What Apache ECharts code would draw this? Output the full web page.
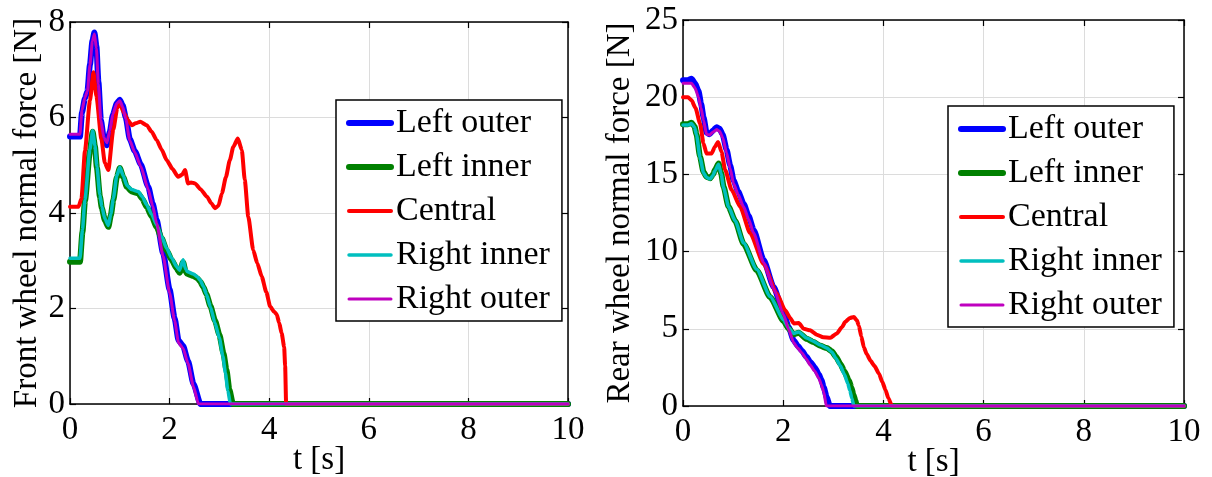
<!DOCTYPE html>
<html>
<head>
<meta charset="utf-8">
<script src="https://cdn.jsdelivr.net/npm/echarts@6/dist/echarts.min.js"></script>
<style>
  html, body { margin: 0; padding: 0; background: #fff; }
  #chart { width: 1212px; height: 477px; }
</style>
</head>
<body>
<div id="chart"></div>
<script>
// Series names (legend order)
const seriesNames = ['Left outer', 'Left inner', 'Central', 'Right inner', 'Right outer'];

// Axis tick values
const timeTicks = [0, 2, 4, 6, 8, 10];
const frontForceTicks = [0, 2, 4, 6, 8];
const rearForceTicks = [0, 5, 10, 15, 20, 25];

// Front wheel normal force [N] vs time [s], pairs [t, F]
const frontLeftOuter = [[0,5.6],[0.2,5.6],[0.24,6.1],[0.3,6.4],[0.35,6.55],[0.4,7.1],[0.45,7.6],[0.49,7.78],[0.53,7.5],[0.57,6.75],[0.62,5.95],[0.68,5.55],[0.74,5.42],[0.8,5.7],[0.86,6.05],[0.94,6.3],[1.0,6.37],[1.06,6.25],[1.12,6.0],[1.2,5.55],[1.3,5.3],[1.42,5.02],[1.57,4.55],[1.66,4.2],[1.74,3.85],[1.87,3.16],[2.0,2.4],[2.1,1.8],[2.18,1.33],[2.27,1.22],[2.37,0.9],[2.48,0.42],[2.62,0],[2.7,0],[10,0]];
const frontLeftInner = [[0,2.98],[0.2,2.98],[0.25,3.6],[0.3,4.25],[0.4,5.3],[0.455,5.7],[0.5,5.4],[0.54,4.95],[0.6,4.35],[0.64,4.1],[0.7,3.85],[0.77,3.71],[0.82,3.95],[0.87,4.27],[0.94,4.75],[1.0,4.94],[1.07,4.75],[1.14,4.55],[1.24,4.45],[1.37,4.41],[1.45,4.3],[1.54,4.13],[1.64,3.93],[1.74,3.71],[1.84,3.47],[1.94,3.22],[2.04,3.02],[2.14,2.84],[2.2,2.75],[2.27,2.97],[2.32,2.78],[2.36,2.72],[2.48,2.68],[2.56,2.63],[2.61,2.57],[2.68,2.45],[2.74,2.3],[2.82,2.05],[2.91,1.75],[3.0,1.45],[3.08,1.07],[3.14,0.72],[3.2,0.3],[3.27,0],[3.35,0],[10,0]];
const frontCentral = [[0,4.13],[0.17,4.13],[0.23,4.3],[0.3,5.3],[0.4,6.35],[0.47,6.95],[0.53,6.45],[0.63,5.55],[0.7,5.05],[0.77,4.9],[0.87,5.75],[0.95,6.2],[1.0,6.3],[1.08,6.1],[1.16,5.95],[1.24,5.84],[1.32,5.88],[1.41,5.91],[1.54,5.84],[1.64,5.7],[1.74,5.53],[1.84,5.33],[1.94,5.11],[2.06,4.92],[2.17,4.76],[2.25,4.8],[2.31,4.9],[2.37,4.62],[2.43,4.64],[2.51,4.62],[2.62,4.5],[2.75,4.34],[2.84,4.2],[2.91,4.1],[2.98,4.15],[3.05,4.41],[3.13,4.75],[3.21,5.11],[3.28,5.39],[3.37,5.56],[3.45,5.32],[3.51,4.69],[3.58,3.92],[3.68,3.22],[3.76,2.95],[3.85,2.67],[3.94,2.35],[4.02,2.04],[4.1,1.93],[4.15,1.88],[4.2,1.7],[4.25,1.48],[4.3,1.2],[4.32,0.8],[4.34,0],[4.42,0],[10,0]];
const frontRightInner = [[0,3.05],[0.2,3.05],[0.25,3.65],[0.3,4.28],[0.4,5.33],[0.455,5.72],[0.5,5.42],[0.54,4.98],[0.6,4.38],[0.64,4.13],[0.7,3.88],[0.77,3.74],[0.82,3.98],[0.87,4.3],[0.94,4.78],[1.0,4.96],[1.07,4.78],[1.14,4.58],[1.24,4.49],[1.37,4.45],[1.45,4.34],[1.54,4.17],[1.64,3.97],[1.74,3.75],[1.84,3.51],[1.94,3.26],[2.04,3.06],[2.14,2.88],[2.2,2.8],[2.27,3.02],[2.32,2.83],[2.36,2.77],[2.48,2.72],[2.56,2.66],[2.61,2.6],[2.68,2.46],[2.74,2.3],[2.82,2.03],[2.91,1.7],[3.0,1.38],[3.07,1.0],[3.12,0.65],[3.17,0.28],[3.22,0],[3.3,0],[10,0]];
const frontRightOuter = [[0,5.65],[0.2,5.65],[0.24,6.15],[0.3,6.42],[0.35,6.55],[0.4,7.1],[0.45,7.6],[0.49,7.75],[0.53,7.45],[0.57,6.7],[0.62,5.95],[0.68,5.58],[0.74,5.47],[0.8,5.73],[0.86,6.07],[0.94,6.3],[1.0,6.35],[1.06,6.22],[1.12,5.97],[1.2,5.52],[1.3,5.27],[1.42,4.98],[1.57,4.5],[1.66,4.15],[1.74,3.78],[1.87,3.1],[2.0,2.33],[2.1,1.75],[2.18,1.28],[2.27,1.17],[2.37,0.85],[2.48,0.36],[2.58,0],[2.66,0],[10,0]];

// Rear wheel normal force [N] vs time [s], pairs [t, F]
const rearLeftOuter = [[0,21.1],[0.1,21.1],[0.17,21.2],[0.24,20.9],[0.31,20.4],[0.36,19.6],[0.41,18.7],[0.47,17.7],[0.53,17.6],[0.6,17.85],[0.67,18.05],[0.73,17.95],[0.79,17.6],[0.87,16.6],[0.94,15.6],[1.01,14.6],[1.1,13.9],[1.21,13.1],[1.31,12.3],[1.41,11.4],[1.61,9.45],[1.81,7.7],[2.01,6.0],[2.11,5.1],[2.21,4.25],[2.29,3.9],[2.37,3.6],[2.46,3.2],[2.54,2.85],[2.63,2.5],[2.71,2.05],[2.76,1.7],[2.81,1.2],[2.87,0.55],[2.93,0],[3.0,0],[10,0]];
const rearLeftInner = [[0,18.25],[0.1,18.25],[0.17,18.35],[0.23,18.1],[0.27,17.6],[0.34,16.15],[0.41,15.15],[0.47,14.85],[0.54,14.75],[0.6,15.0],[0.64,15.3],[0.71,15.7],[0.76,15.1],[0.81,14.2],[0.91,12.9],[1.04,12.0],[1.21,10.5],[1.47,8.8],[1.74,7.05],[2.01,5.5],[2.11,5.0],[2.21,4.65],[2.31,4.75],[2.47,4.35],[2.6,4.15],[2.74,3.9],[2.87,3.75],[2.97,3.55],[3.05,3.2],[3.14,2.74],[3.22,2.25],[3.31,1.66],[3.36,1.2],[3.4,0.75],[3.44,0.35],[3.47,0],[3.55,0],[10,0]];
const rearCentral = [[0,20.0],[0.1,20.0],[0.17,19.8],[0.25,19.3],[0.34,18.3],[0.41,17.0],[0.47,16.35],[0.57,16.35],[0.64,16.8],[0.7,17.1],[0.77,16.45],[0.84,15.3],[0.97,14.0],[1.14,12.9],[1.34,11.2],[1.61,9.2],[1.87,7.3],[2.04,6.2],[2.14,5.7],[2.21,5.35],[2.31,5.37],[2.41,5.0],[2.54,4.9],[2.67,4.62],[2.8,4.45],[2.94,4.42],[3.07,4.7],[3.17,5.1],[3.24,5.45],[3.33,5.7],[3.41,5.76],[3.47,5.55],[3.51,5.2],[3.56,4.5],[3.61,3.8],[3.67,3.35],[3.74,2.95],[3.82,2.6],[3.91,2.1],[3.98,1.55],[4.04,1.05],[4.1,0.5],[4.17,0],[4.25,0],[10,0]];
const rearRightInner = [[0,18.2],[0.1,18.2],[0.17,18.3],[0.23,18.05],[0.27,17.55],[0.34,16.1],[0.41,15.1],[0.47,14.8],[0.54,14.7],[0.6,14.95],[0.64,15.25],[0.71,15.65],[0.76,15.05],[0.81,14.15],[0.91,12.9],[1.04,12.0],[1.21,10.55],[1.47,8.85],[1.74,7.1],[2.01,5.55],[2.11,5.05],[2.21,4.7],[2.31,4.8],[2.47,4.4],[2.6,4.2],[2.74,3.95],[2.87,3.75],[2.97,3.5],[3.05,3.1],[3.14,2.6],[3.22,2.05],[3.29,1.45],[3.33,1.0],[3.37,0.5],[3.41,0],[3.5,0],[10,0]];
const rearRightOuter = [[0,20.9],[0.1,20.9],[0.17,20.9],[0.24,20.6],[0.31,20.0],[0.36,19.3],[0.41,18.5],[0.47,17.6],[0.53,17.55],[0.6,17.75],[0.67,17.9],[0.73,17.8],[0.79,17.4],[0.87,16.4],[0.94,15.4],[1.01,14.4],[1.1,13.7],[1.21,12.9],[1.31,12.1],[1.41,11.2],[1.61,9.3],[1.81,7.6],[2.01,5.9],[2.11,4.95],[2.21,4.1],[2.29,3.75],[2.37,3.45],[2.46,3.05],[2.54,2.65],[2.63,2.25],[2.71,1.8],[2.76,1.4],[2.81,0.9],[2.86,0],[2.94,0],[10,0]];

const frontData = [frontLeftOuter, frontLeftInner, frontCentral, frontRightInner, frontRightOuter];
const rearData = [rearLeftOuter, rearLeftInner, rearCentral, rearRightInner, rearRightOuter];

// Line look per series: colour and width
const lineColors = ['#0000ff', '#008000', '#ff0000', '#00bfbf', '#bf00bf'];
const lineWidths = [6, 6, 4, 3.5, 3];
const legendWidths = [6, 6, 4, 3.5, 3];

const FONT = "'Liberation Serif', 'Times New Roman', serif";

function mainX(gridIndex) {
  return {
    gridIndex, type: 'value', position: 'bottom',
    min: timeTicks[0], max: timeTicks[timeTicks.length - 1],
    interval: timeTicks[1] - timeTicks[0],
    name: 't [s]', nameLocation: 'middle', nameGap: 40, nameMoveOverlap: false,
    nameTextStyle: { fontFamily: FONT, fontSize: 33, color: '#000' },
    axisLine: { show: true, onZero: false, lineStyle: { color: '#000', width: 1.5 } },
    axisTick: { show: true, inside: true, length: 6, lineStyle: { color: '#000', width: 1.2 } },
    axisLabel: { fontFamily: FONT, fontSize: 33, color: '#000', margin: 10 },
    splitLine: { show: true, lineStyle: { color: '#dcdcdc', width: 1 } }
  };
}
function boxX(gridIndex) {
  return {
    gridIndex, type: 'value', position: 'top',
    min: timeTicks[0], max: timeTicks[timeTicks.length - 1],
    interval: timeTicks[1] - timeTicks[0],
    axisLine: { show: true, onZero: false, lineStyle: { color: '#000', width: 1.5 } },
    axisTick: { show: true, inside: true, length: 6, lineStyle: { color: '#000', width: 1.2 } },
    axisLabel: { show: false }, splitLine: { show: false }
  };
}
function mainY(gridIndex, ticks, name, gap) {
  return {
    gridIndex, type: 'value', position: 'left',
    min: ticks[0], max: ticks[ticks.length - 1], interval: ticks[1] - ticks[0],
    name, nameLocation: 'middle', nameGap: gap, nameMoveOverlap: false,
    nameTextStyle: { fontFamily: FONT, fontSize: 33, color: '#000' },
    axisLine: { show: true, onZero: false, lineStyle: { color: '#000', width: 1.5 } },
    axisTick: { show: true, inside: true, length: 6, lineStyle: { color: '#000', width: 1.2 } },
    axisLabel: { fontFamily: FONT, fontSize: 33, color: '#000', margin: 5 },
    splitLine: { show: true, lineStyle: { color: '#dcdcdc', width: 1 } }
  };
}
function boxY(gridIndex, ticks) {
  return {
    gridIndex, type: 'value', position: 'right',
    min: ticks[0], max: ticks[ticks.length - 1], interval: ticks[1] - ticks[0],
    axisLine: { show: true, onZero: false, lineStyle: { color: '#000', width: 1.5 } },
    axisTick: { show: true, inside: true, length: 6, lineStyle: { color: '#000', width: 1.2 } },
    axisLabel: { show: false }, splitLine: { show: false }
  };
}

function makeSeries(dataSets, axisIndex) {
  return dataSets.map((d, i) => ({
    name: seriesNames[i], type: 'line',
    xAxisIndex: axisIndex, yAxisIndex: axisIndex,
    data: d, symbol: 'none', showSymbol: false,
    smooth: 0.2, smoothMonotone: 'x', animation: false,
    lineStyle: { color: lineColors[i], width: lineWidths[i], join: 'round', cap: 'round' },
    itemStyle: { color: lineColors[i] },
    emphasis: { disabled: true }
  }));
}

// Legend entries show only the line sample (the marker is made fully transparent)
function makeLegend(left, top) {
  return {
    left, top, orient: 'vertical',
    backgroundColor: '#fff', borderColor: '#000', borderWidth: 1.5, borderRadius: 0,
    padding: [6, 12, 5, 10], itemGap: 10, itemWidth: 42, itemHeight: 14,
    textStyle: { fontFamily: FONT, fontSize: 34, lineHeight: 33, color: '#000' },
    selectedMode: false,
    data: seriesNames.map((n, i) => ({
      name: n,
      lineStyle: { color: lineColors[i], width: legendWidths[i], opacity: 1 },
      itemStyle: { color: lineColors[i], opacity: 0, borderWidth: 0 }
    }))
  };
}

const chart = echarts.init(document.getElementById('chart'), null, { renderer: 'canvas' });
chart.setOption({
  animation: false,
  backgroundColor: '#fff',
  grid: [
    { left: 70, top: 22, width: 498, height: 382, outerBoundsMode: 'none', containLabel: false },
    { left: 683, top: 20, width: 501, height: 386, outerBoundsMode: 'none', containLabel: false }
  ],
  xAxis: [mainX(0), boxX(0), mainX(1), boxX(1)],
  yAxis: [
    mainY(0, frontForceTicks, 'Front wheel normal force [N]', 26), boxY(0, frontForceTicks),
    mainY(1, rearForceTicks, 'Rear wheel normal force [N]', 46), boxY(1, rearForceTicks)
  ],
  legend: [makeLegend(336, 100), makeLegend(948, 106)],
  series: [].concat(makeSeries(frontData, 0), makeSeries(rearData, 2))
});
</script>
</body>
</html>
